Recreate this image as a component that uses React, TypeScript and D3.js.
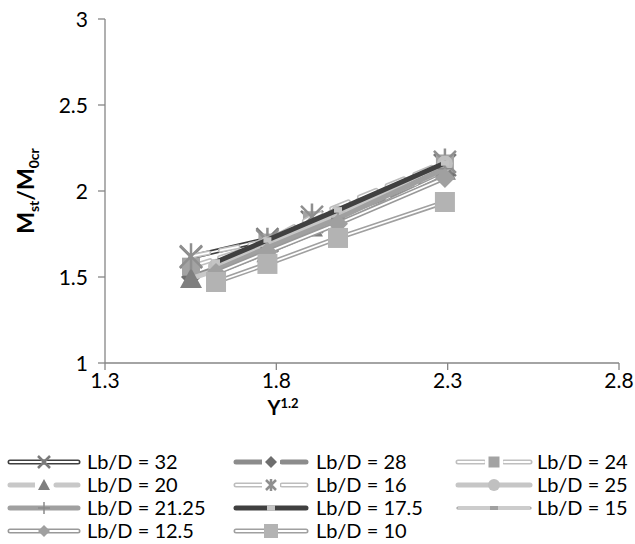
import React from "react";
import * as d3 from "d3";

const xTicks = [1.3, 1.8, 2.3, 2.8];
const yTicks = [1, 1.5, 2, 2.5, 3];
const xGroupA = [1.551, 1.774, 1.904, 2.292];
const xGroupB = [1.624, 1.774, 1.98, 2.292];

const labels = ["Lb/D = 32", "Lb/D = 28", "Lb/D = 24", "Lb/D = 20", "Lb/D = 16", "Lb/D = 25", "Lb/D = 21.25", "Lb/D = 17.5", "Lb/D = 15", "Lb/D = 12.5", "Lb/D = 10"];
const y32 = [1.616, 1.72, 1.82, 2.15];
const y28 = [1.5, 1.66, 1.8, 2.09];
const y24 = [1.56, 1.7, 1.83, 2.16];
const y20 = [1.49, 1.64, 1.79, 2.12];
const y16 = [1.62, 1.71, 1.85, 2.17];
const y25 = [1.56, 1.69, 1.87, 2.16];
const y2125 = [1.54, 1.67, 1.84, 2.13];
const y175 = [1.587, 1.715, 1.89, 2.163];
const y15 = [1.52, 1.64, 1.81, 2.1];
const y125 = [1.523, 1.645, 1.81, 2.076];
const y10 = [1.471, 1.576, 1.727, 1.936];

type Style = {
  color: string; width: number; hollow?: boolean; dash?: string;
  marker: string; mColor: string; mSize: number; lSize: number;
};

const styles: Style[] = [
  { color: "#404040", width: 5, hollow: true, marker: "x", mColor: "#7a7a7a", mSize: 11, lSize: 6 },
  { color: "#8c8c8c", width: 5, dash: "22 9", marker: "diamond", mColor: "#6e6e6e", mSize: 10, lSize: 6 },
  { color: "#bfbfbf", width: 5, hollow: true, dash: "20 10", marker: "square", mColor: "#a3a3a3", mSize: 9, lSize: 5.5 },
  { color: "#c8c8c8", width: 5, dash: "18 10", marker: "triangle", mColor: "#7f7f7f", mSize: 11, lSize: 6 },
  { color: "#bdbdbd", width: 5, hollow: true, dash: "18 12", marker: "asterisk", mColor: "#8f8f8f", mSize: 11, lSize: 5 },
  { color: "#c6c6c6", width: 5, marker: "circle", mColor: "#c0c0c0", mSize: 8, lSize: 6 },
  { color: "#a0a0a0", width: 5, marker: "plus", mColor: "#8a8a8a", mSize: 7, lSize: 6 },
  { color: "#404040", width: 5, marker: "smallsq", mColor: "#c4c4c4", mSize: 4, lSize: 4 },
  { color: "#999999", width: 3.2, hollow: true, marker: "dash", mColor: "#a0a0a0", mSize: 4, lSize: 4 },
  { color: "#999999", width: 5, hollow: true, marker: "diamond", mColor: "#a0a0a0", mSize: 10, lSize: 6 },
  { color: "#a0a0a0", width: 5, hollow: true, marker: "square", mColor: "#b3b3b3", mSize: 10, lSize: 7 },
];

const seriesY = [y32, y28, y24, y20, y16, y25, y2125, y175, y15, y125, y10];
const seriesX = [xGroupA, xGroupA, xGroupA, xGroupA, xGroupA, xGroupB, xGroupB, xGroupB, xGroupB, xGroupB, xGroupB];

const FONT = "Lato, 'Liberation Sans', sans-serif";

function Marker({ type, x, y, s, color }: { type: string; x: number; y: number; s: number; color: string }) {
  switch (type) {
    case "x":
      return <path d={`M${x - s},${y - s}L${x + s},${y + s}M${x - s},${y + s}L${x + s},${y - s}`} stroke={color} strokeWidth={2.5} />;
    case "asterisk":
      return <path d={`M${x - s},${y - s}L${x + s},${y + s}M${x - s},${y + s}L${x + s},${y - s}M${x},${y - s * 1.2}L${x},${y + s * 1.2}`} stroke={color} strokeWidth={2.5} />;
    case "plus":
      return <path d={`M${x - s},${y}L${x + s},${y}M${x},${y - s}L${x},${y + s}`} stroke={color} strokeWidth={1.5} />;
    case "diamond":
      return <path d={`M${x},${y - s}L${x + s},${y}L${x},${y + s}L${x - s},${y}Z`} fill={color} />;
    case "square":
      return <rect x={x - s} y={y - s} width={2 * s} height={2 * s} fill={color} />;
    case "smallsq":
      return <rect x={x - s} y={y - s * 0.7} width={2 * s} height={1.4 * s} fill={color} />;
    case "dash":
      return <rect x={x - s} y={y - s * 0.5} width={2 * s} height={s} fill={color} />;
    case "triangle":
      return <path d={`M${x},${y - s}L${x + s},${y + s * 0.85}L${x - s},${y + s * 0.85}Z`} fill={color} />;
    case "circle":
      return <circle cx={x} cy={y} r={s} fill={color} />;
  }
  return null;
}

function StyledLine({ d, st }: { d: string; st: Style }) {
  return (
    <g fill="none" strokeLinecap="round" strokeLinejoin="round">
      <path d={d} stroke={st.color} strokeWidth={st.width} strokeDasharray={st.dash} />
      {st.hollow && <path d={d} stroke="#ffffff" strokeWidth={st.width > 4 ? 1.8 : 1.1} strokeDasharray={st.dash} />}
    </g>
  );
}

export default function App() {
  const x = d3.scaleLinear().domain([1.3, 2.8]).range([105, 619]);
  const y = d3.scaleLinear().domain([1, 3]).range([363, 19]);
  const line = d3.line<[number, number]>().x((d) => x(d[0])).y((d) => y(d[1]));
  const axisColor = "#868686";

  const legendCols = [
    { lx0: 10, lx1: 78, tx: 87 },
    { lx0: 236, lx1: 306, tx: 316 },
    { lx0: 458, lx1: 530, tx: 537 },
  ];

  return (
    <svg width={635} height={544} style={{ position: "absolute", left: 0, top: 0, background: "#fff" }} fontFamily={FONT}>
      <rect width={635} height={544} fill="#fff" />
      {/* axes */}
      <line x1={x(1.3)} x2={x(2.8)} y1={y(1)} y2={y(1)} stroke={axisColor} strokeWidth={1.3} />
      <line x1={x(1.3)} x2={x(1.3)} y1={y(1)} y2={y(3)} stroke={axisColor} strokeWidth={1.3} />
      {yTicks.map((t) => (
        <g key={"y" + t}>
          <line x1={x(1.3) - 7} x2={x(1.3)} y1={y(t)} y2={y(t)} stroke={axisColor} strokeWidth={1.3} />
          <text x={88} y={y(t)} dy="0.36em" textAnchor="end" fontSize={21} fill="#000">{t}</text>
        </g>
      ))}
      {xTicks.map((t) => (
        <g key={"x" + t}>
          <line x1={x(t)} x2={x(t)} y1={y(1)} y2={y(1) + 7} stroke={axisColor} strokeWidth={1.3} />
          <text x={x(t)} y={388} textAnchor="middle" fontSize={21} fill="#000">{t}</text>
        </g>
      ))}
      {/* axis titles */}
      <text x={283} y={415} textAnchor="middle" fontSize={20} fontWeight="bold">
        Υ<tspan fontSize={13} dy={-7}>1.2</tspan>
      </text>
      <text transform="translate(34,191) rotate(-90)" textAnchor="middle" fontSize={23} fontWeight="bold">
        M<tspan fontSize={14} dy={5}>st</tspan><tspan fontSize={23} dy={-5}>/M</tspan><tspan fontSize={14} dy={5}>0cr</tspan>
      </text>
      {/* series */}
      {styles.map((st, i) => {
        const pts = seriesX[i].map((xv, j) => [xv, seriesY[i][j]] as [number, number]);
        return (
          <g key={"s" + i}>
            <StyledLine d={line(pts) || ""} st={st} />
            {pts.map((p, j) => (
              <Marker key={j} type={st.marker} x={x(p[0])} y={y(p[1])} s={st.mSize} color={st.mColor} />
            ))}
          </g>
        );
      })}
      {/* legend */}
      {labels.map((lab, i) => {
        const col = legendCols[i % 3];
        const row = Math.floor(i / 3);
        const ly = 462 + row * 23;
        const st = styles[i];
        const mx = (col.lx0 + col.lx1) / 2;
        return (
          <g key={"l" + i}>
            <StyledLine d={`M${col.lx0},${ly}L${col.lx1},${ly}`} st={{ ...st, dash: st.dash ? "26 20" : undefined }} />
            {st.dash && <rect x={mx - 9} y={ly - 6} width={18} height={12} fill="#fff" />}
            <Marker type={st.marker} x={mx} y={ly} s={st.lSize} color={st.mColor} />
            <text x={col.tx} y={ly} dy="0.35em" fontSize={20} fill="#000">{lab}</text>
          </g>
        );
      })}
    </svg>
  );
}
